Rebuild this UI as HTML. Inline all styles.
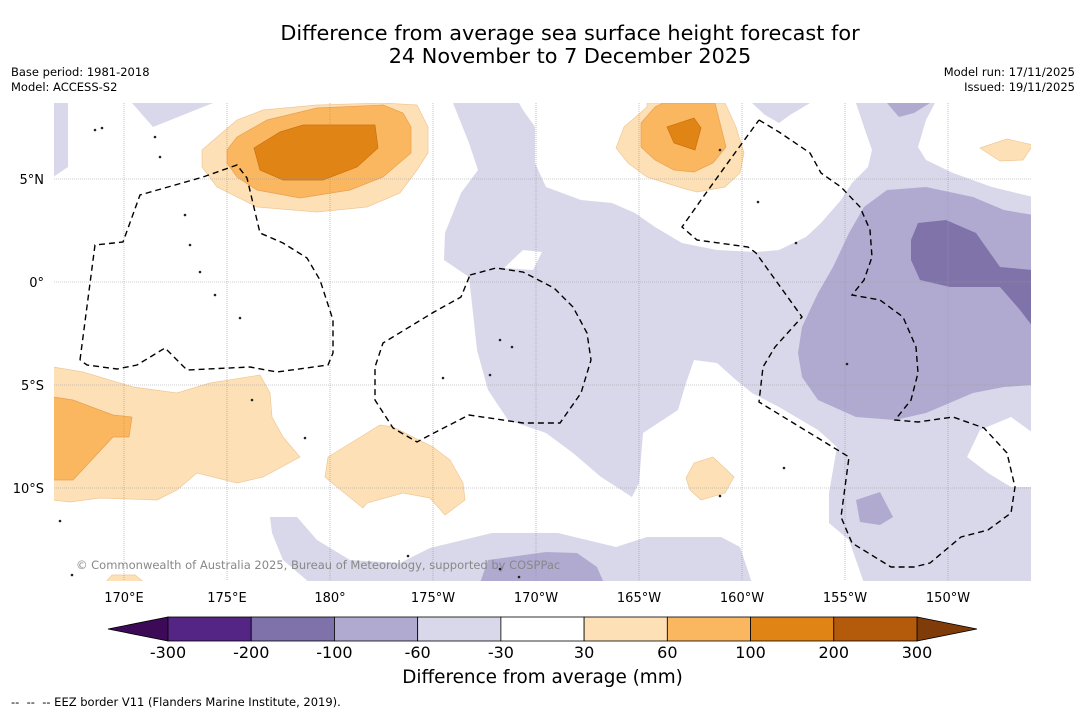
<!DOCTYPE html>
<html><head><meta charset="utf-8">
<style>
body{margin:0;background:#fff;font-family:"DejaVu Sans","Liberation Sans",sans-serif;}
#wrap{position:relative;width:1085px;height:713px;overflow:hidden;background:#fff;}
.t{position:absolute;white-space:nowrap;color:#000;}
</style></head>
<body>
<div id="wrap">
<div class="t" style="left:0;width:1140px;text-align:center;top:22px;font-size:20.8px;line-height:23px;">Difference from average sea surface height forecast for<br>24 November to 7 December 2025</div>
<div class="t" style="left:11px;top:65px;font-size:11.5px;line-height:15px;">Base period: 1981-2018<br>Model: ACCESS-S2</div>
<div class="t" style="right:10px;top:65px;font-size:11.5px;line-height:15px;text-align:right;">Model run: 17/11/2025<br>Issued: 19/11/2025</div>
<svg id="svg" width="1085" height="713" style="position:absolute;left:0;top:0">
<defs><clipPath id="mc"><rect x="54" y="103" width="977" height="478"/></clipPath></defs>
<g id="map" clip-path="url(#mc)"></g>
<g id="axes"></g>
<g id="cbar"></g>
</svg>
<div class="t" style="left:76px;top:558px;font-size:11.5px;color:#888;">© Commonwealth of Australia 2025, Bureau of Meteorology, supported by COSPPac</div>
<div class="t" style="left:0;width:1085px;text-align:center;top:667px;font-size:18.4px;">Difference from average (mm)</div>
<div class="t" style="left:11px;top:695px;font-size:11.5px;">--&nbsp; --&nbsp; -- EEZ border V11 (Flanders Marine Institute, 2019).</div>
</div>
<script>
// ---- data ----
const levels = [-300,-200,-100,-60,-30,30,60,100,200,300];
const levelColors = ['#552586','#7f72aa','#b0aad0','#d8d8ea','#ffffff','#fde0b6','#fbb660','#e08515','#b35a0b'];
const extendColors = ['#3d0a58','#7f3b08'];
const lonTicks = [170,175,180,185,190,195,200,205,210];
const lonLabels = ['170°E','175°E','180°','175°W','170°W','165°W','160°W','155°W','150°W'];
const latTicks = [5,0,-5,-10];
const latLabels = ['5°N','0°','5°S','10°S'];

// ---- axis functions ----
const x = lon => 124 + (lon-170)*20.6;
const y = lat => 282 - lat*20.6;
const NS='http://www.w3.org/2000/svg';
const FF='DejaVu Sans, Liberation Sans, sans-serif';
function mk(tag,attrs,parent){const e=document.createElementNS(NS,tag);for(const k in attrs)e.setAttribute(k,attrs[k]);parent.appendChild(e);return e;}
const map=document.getElementById('map'), axes=document.getElementById('axes'), cb=document.getElementById('cbar');

// ---- contour shapes (pixel outlines) ----
const C={lav:'#d8d8ea',pur:'#b0aad0',dpur:'#8073aa',peach:'#fde0b6',lor:'#fbb660',or:'#e08515',w:'#ffffff'};
const shapes=[
['lavender-main','lav',[[453,103],[519,103],[523,110],[535,127],[535,163],[546,187],[581,200],[612,203],[635,213],[655,227],[682,243],[717,250],[756,252],[779,250],[806,237],[821,223],[841,200],[852,183],[868,167],[872,150],[864,127],[856,103],[935,103],[926,120],[918,147],[926,160],[953,173],[992,187],[1033,197],[1033,583],[864,583],[849,540],[829,523],[829,493],[837,447],[818,430],[779,407],[752,393],[736,380],[717,363],[694,360],[686,383],[678,410],[643,433],[639,483],[632,497],[601,477],[573,453],[546,433],[508,420],[488,390],[477,350],[473,313],[469,277],[444,260],[445,233],[461,193],[478,170],[469,143]]],
['white-notch','w',[[504,268],[523,250],[542,252],[533,270]]],
['white-hole-east','w',[[967,457],[980,430],[1011,417],[1033,433],[1033,487],[1011,487],[988,473]]],
['lavender-top-small','lav',[[752,103],[810,103],[790,115],[779,123],[765,115]]],
['lavender-top-left','lav',[[53,103],[68,103],[68,167],[53,177]]],
['lavender-top-mid','lav',[[132,103],[213,103],[153,127]]],
['lavender-bottom','lav',[[270,517],[297,517],[317,540],[350,560],[400,563],[430,548],[492,533],[558,533],[616,547],[647,537],[721,537],[740,547],[752,583],[310,583],[283,560],[272,533]]],
['purple-bottom','pur',[[480,583],[488,560],[546,552],[577,553],[597,567],[604,583]]],
['purple-east','pur',[[798,353],[802,327],[818,293],[833,267],[849,233],[864,207],[887,190],[926,187],[973,197],[1004,210],[1033,215],[1033,385],[1004,387],[973,393],[926,413],[895,420],[856,417],[818,400],[802,377]]],
['purple-top','pur',[[887,103],[930,103],[914,113],[899,117]]],
['purple-small-se','pur',[[856,500],[880,492],[893,517],[880,525],[860,522]]],
['darkpurple-east','dpur',[[911,240],[918,223],[946,220],[976,233],[1000,267],[1033,270],[1033,327],[1020,310],[1000,287],[950,287],[920,280],[911,260]]],
['peach-ne','peach',[[980,148],[1007,139],[1033,145],[1023,160],[1000,161]]],
['peach-north-a','peach',[[616,148],[624,127],[647,107],[647,103],[725,103],[736,127],[744,153],[740,173],[725,187],[697,192],[682,188],[647,177],[628,163]]],
['lightorange-north-a','lor',[[641,147],[641,123],[655,107],[663,103],[715,103],[726,147],[713,163],[694,172],[674,170],[655,160]]],
['orange-north-a','or',[[667,127],[694,118],[701,128],[695,150],[674,143]]],
['peach-small-south','peach',[[686,478],[694,463],[713,457],[734,477],[725,493],[701,500],[690,490]]],
['peach-north-b','peach',[[202,150],[217,137],[237,120],[263,110],[317,105],[383,103],[417,105],[428,127],[428,153],[417,170],[400,193],[367,207],[317,212],[257,207],[217,187],[202,167]]],
['lightorange-north-b','lor',[[227,150],[237,137],[267,120],[317,108],[383,105],[403,113],[411,127],[411,153],[383,177],[350,190],[300,198],[257,190],[237,177],[227,163]]],
['orange-north-b','or',[[254,148],[280,132],[303,125],[375,125],[378,148],[357,167],[323,180],[283,180],[260,170]]],
['peach-southwest','peach',[[53,367],[83,372],[133,387],[177,393],[210,383],[260,375],[270,393],[272,417],[283,437],[300,457],[263,477],[237,483],[197,473],[177,490],[157,500],[100,498],[70,502],[53,500]]],
['lightorange-southwest','lor',[[53,397],[73,400],[113,415],[132,417],[129,437],[113,437],[73,480],[53,480]]],
['peach-south-mid','peach',[[328,457],[380,425],[393,427],[433,447],[450,460],[463,483],[465,500],[445,515],[430,498],[403,493],[367,503],[363,508],[337,487],[325,477]]],
['peach-bottom-left','peach',[[105,583],[112,575],[135,575],[145,583]]]
];
const strokeFor={peach:'#f0c896',lor:'#e8a050',or:'#c9720f'};
shapes.forEach(s=>{
  const p=mk('polygon',{points:s[2].map(q=>q.join(',')).join(' '),fill:C[s[1]],stroke:strokeFor[s[1]]||'none','stroke-width':0.7},map);
  
  
});

// grid
lonTicks.forEach((lo,i)=>{
  const l=mk('line',{x1:x(lo),x2:x(lo),y1:103,y2:581,stroke:'#999','stroke-width':0.6,'stroke-dasharray':'1,1'},map);
  
  
  const t=mk('text',{x:x(lo),y:602,'font-size':13,'text-anchor':'middle','font-family':FF},axes);
  t.textContent=lonLabels[i];
  
  
});
latTicks.forEach((la,i)=>{
  const l=mk('line',{x1:54,x2:1031,y1:y(la),y2:y(la),stroke:'#999','stroke-width':0.6,'stroke-dasharray':'1,1'},map);
  
  
  const t=mk('text',{x:44,y:y(la)+5,'font-size':13,'text-anchor':'end','font-family':FF},axes);
  t.textContent=latLabels[i];
  
  
});

// EEZ borders
const eez=[
[[80,360],[95,245],[123,242],[140,195],[203,177],[237,165],[247,178],[260,233],[283,243],[307,258],[320,280],[333,320],[333,353],[328,365],[277,372],[250,367],[187,370],[165,348],[137,365],[117,369],[87,365],[80,360]],
[[470,275],[496,268],[523,272],[554,288],[573,307],[587,333],[591,360],[581,393],[560,423],[523,423],[469,415],[430,435],[417,442],[393,428],[375,400],[375,367],[383,343],[434,312],[461,297],[470,275]],
[[759,120],[779,132],[810,153],[821,173],[841,187],[860,207],[870,230],[872,257],[864,280],[852,295],[880,300],[903,317],[916,347],[918,373],[911,400],[895,420],[918,422],[953,417],[984,428],[1007,453],[1015,487],[1011,513],[988,530],[961,537],[930,563],[914,567],[891,567],[852,543],[841,517],[849,457],[759,402],[763,367],[775,347],[802,317],[756,253],[748,247],[697,240],[682,227],[701,200],[732,157],[759,120]]
];
eez.forEach(pts=>{
  const p=mk('polyline',{points:pts.map(q=>q.join(',')).join(' '),fill:'none',stroke:'#000','stroke-width':1.4,'stroke-dasharray':'6,4'},map);
  
  
});
// islands (small dots)
const islands=[[95,130],[102,128],[155,137],[160,157],[185,215],[190,245],[200,272],[215,295],[240,318],[252,400],[305,438],[500,340],[512,347],[443,378],[490,375],[720,150],[758,202],[796,243],[847,364],[784,468],[720,496],[60,521],[72,575],[408,556],[500,569],[519,577]];
islands.forEach(q=>{
  const c=mk('circle',{cx:q[0],cy:q[1],r:1.3,fill:'#222'},map);
  
  
});

// colorbar
const cbL=168, cbR=917, cbT=617, cbB=641;
const bw=(cbR-cbL)/(levels.length-1);
const cx=i=>cbL+i*bw;
let t1=mk('polygon',{points:`${cbL},${cbT} ${cbL},${cbB} 108,${(cbT+cbB)/2}`,fill:extendColors[0],stroke:'#000','stroke-width':0.8},cb);


let t2=mk('polygon',{points:`${cbR},${cbT} ${cbR},${cbB} 977,${(cbT+cbB)/2}`,fill:extendColors[1],stroke:'#000','stroke-width':0.8},cb);


levelColors.forEach((col,i)=>{
  const r=mk('rect',{x:cx(i),y:cbT,width:bw,height:cbB-cbT,fill:col,stroke:'#000','stroke-width':0.8},cb);
  
  
});
levels.forEach((v,i)=>{
  const t=mk('text',{x:cx(i),y:658,'font-size':16,'text-anchor':'middle','font-family':FF},cb);
  t.textContent=String(v);
  
  
});
</script>
</body></html>
